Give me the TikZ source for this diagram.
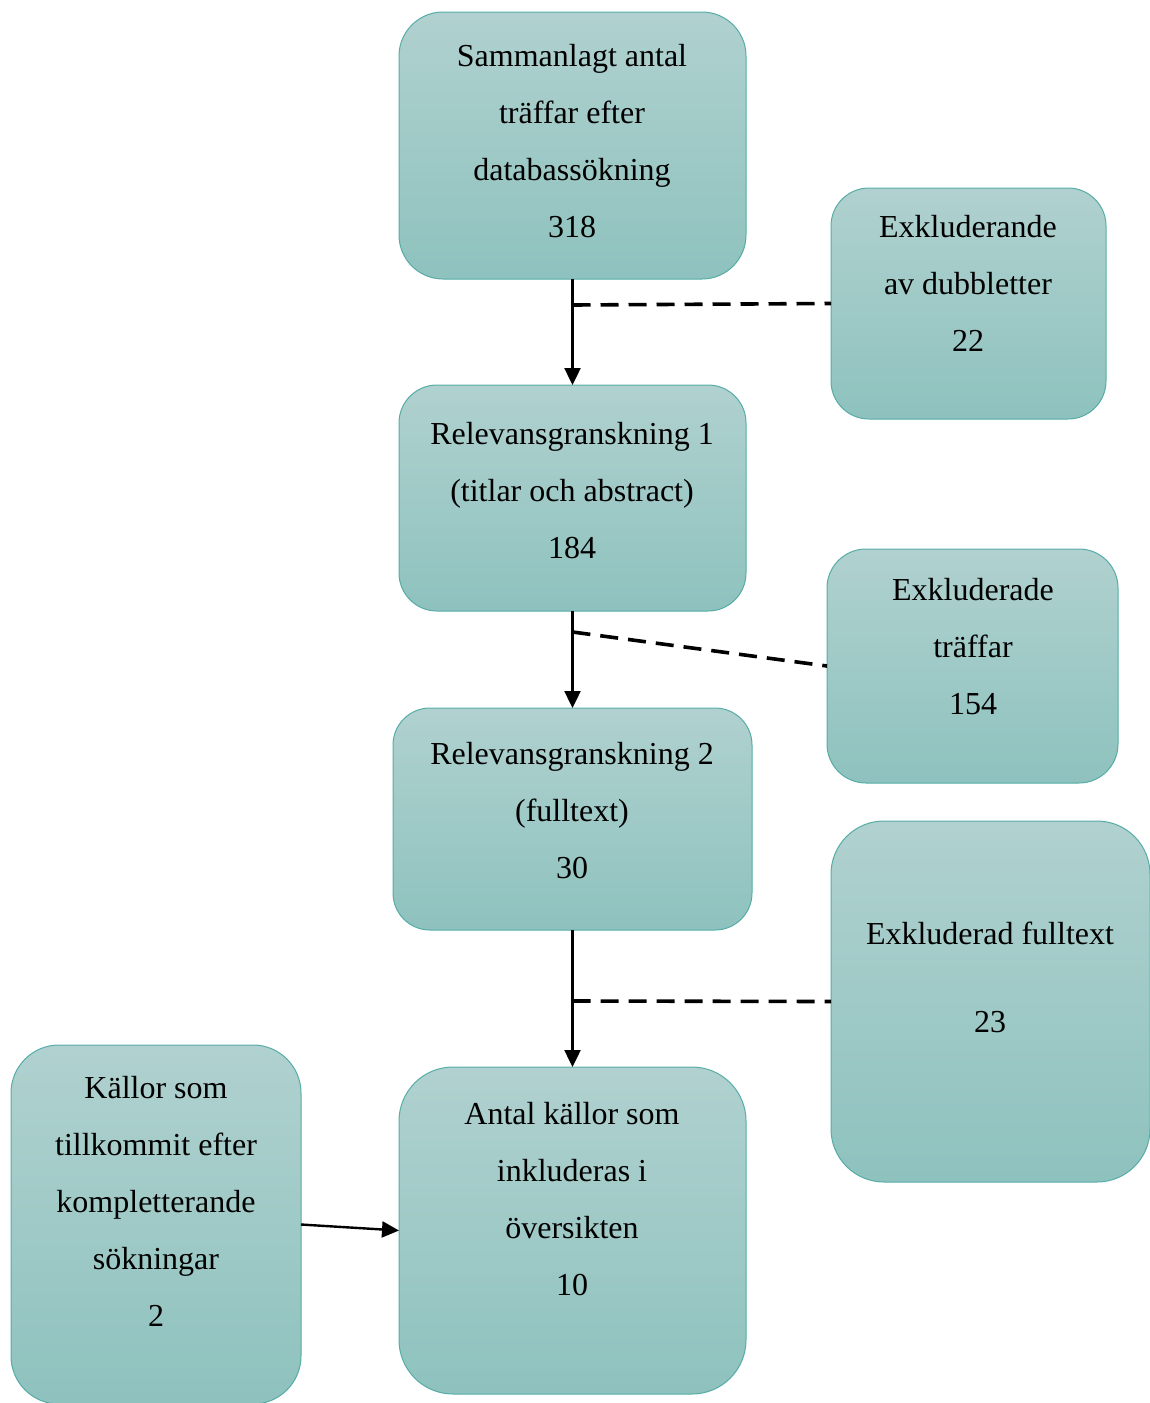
\documentclass[tikz,border=0pt]{standalone}
\usepackage{fontspec}
\setmainfont{Liberation Serif}
\usetikzlibrary{arrows.meta}
\definecolor{boxtop}{RGB}{176,209,207}
\definecolor{boxbot}{RGB}{142,194,190}
\definecolor{boxline}{RGB}{86,172,166}
\begin{document}
\begin{tikzpicture}[x=1pt,y=-1pt,
  fbox/.style={draw=boxline, line width=1pt, top color=boxtop, bottom color=boxbot, inner sep=0pt, outer sep=0pt},
  txt/.style={align=center, font=\fontsize{32}{57}\selectfont, inner sep=0pt},
  flow/.style={line width=2.4pt, -{Triangle[length=17pt,width=16pt]}},
  excl/.style={line width=3.6pt, dash pattern=on 18pt off 10pt}]
\useasboundingbox (0,0) rectangle (1150,1403);

\node[fbox, rounded corners=44pt, minimum width=347pt, minimum height=267pt] (b1) at (572.5,145.5) {};
\node[fbox, rounded corners=38pt, minimum width=275pt, minimum height=231pt] (b2) at (968.5,303.5) {};
\node[fbox, rounded corners=38pt, minimum width=347pt, minimum height=226pt] (b3) at (572.5,498) {};
\node[fbox, rounded corners=39pt, minimum width=291pt, minimum height=234pt] (b4) at (972.5,666) {};
\node[fbox, rounded corners=37pt, minimum width=359pt, minimum height=222pt] (b5) at (572.5,819) {};
\node[fbox, rounded corners=53pt, minimum width=319pt, minimum height=361pt] (b6) at (990.5,1001.5) {};
\node[fbox, rounded corners=48pt, minimum width=290pt, minimum height=359pt] (b7) at (156,1224.5) {};
\node[fbox, rounded corners=54pt, minimum width=347pt, minimum height=327pt] (b8) at (572.5,1230.5) {};

\node[txt] (t1) at (572,141) {Sammanlagt antal\\träffar efter\\databassökning\\318};
\node[txt] (t2) at (968,283.5) {Exkluderande\\av dubbletter\\22};
\node[txt] (t3) at (572,490.5) {Relevansgranskning 1\\(titlar och abstract)\\184};
\node[txt] (t4) at (973,647) {Exkluderade\\träffar\\154};
\node[txt] (t5) at (572,811) {Relevansgranskning 2\\(fulltext)\\30};
\node[txt] (t6) at (990,977) {Exkluderad fulltext\\[31pt]23};
\node[txt] (t7) at (156,1201.5) {Källor som\\tillkommit efter\\kompletterande\\sökningar\\2};
\node[txt] (t8) at (572,1199) {Antal källor som\\inkluderas i\\översikten\\10};

\coordinate (j1) at (572.5,305);
\coordinate (j2) at (572.5,632);
\coordinate (j3) at (572.5,1001);

\draw[flow] (b1.south) -- (b3.north);
\draw[flow] (b3.south) -- (b5.north);
\draw[flow] (b5.south) -- (b8.north);
\draw[excl] (j1) -- (b2.west);
\draw[excl] (j2) -- (b4.west);
\draw[excl] (j3) -- (b6.west);
\draw[flow] (b7.east) -- (b8.west);
\end{tikzpicture}
\end{document}
